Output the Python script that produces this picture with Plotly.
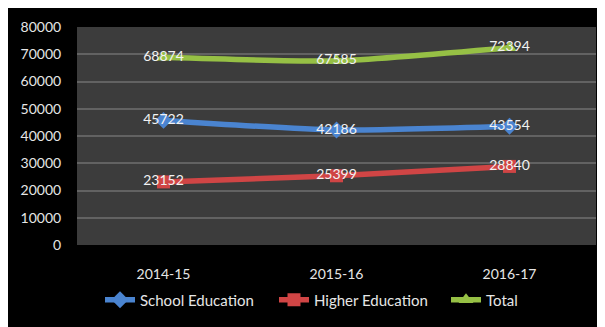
import plotly.graph_objects as go

years = ["2014-15", "2015-16", "2016-17"]
school = [45722, 42186, 43554]
higher = [23152, 25399, 28840]
total = [68874, 67585, 72394]
series_names = ["School Education", "Higher Education", "Total"]
colors = ["#4a84d0", "#d04545", "#96c045"]
symbols = ["diamond", "square", "triangle-up"]
y_ticks = [0, 10000, 20000, 30000, 40000, 50000, 60000, 70000, 80000]

legend_ids = ["legend", "legend2", "legend3"]

fig = go.Figure()
for name, vals, col, sym, lg in zip(series_names, [school, higher, total], colors, symbols, legend_ids):
    fig.add_trace(go.Scatter(
        x=years, y=vals, name=name, mode="lines+markers+text",
        line=dict(color=col, width=5.5, shape="spline", smoothing=0.6),
        marker=dict(symbol=sym, size=13, color=col),
        text=[str(v) for v in vals], textposition="middle center",
        textfont=dict(color="#f2f2f2", size=14, family="Lato"),
        cliponaxis=False, legend=lg,
    ))

# page has 8px body margin -> figure origin at (8, 8)
W, H = 597, 319
L, T = 69, 19
R = W - 588
B = H - 237
pw = W - L - R
ph = H - T - B

legend_left = [92, 266, 438]
legends = {}
for lg, xl in zip(legend_ids, legend_left):
    legends[lg] = dict(orientation="h", x=(xl - L) / pw, xanchor="left",
                       y=(237 - 292) / ph, yanchor="middle",
                       font=dict(size=15, color="#e6e6e6", family="Lato"),
                       bgcolor="rgba(0,0,0,0)", itemwidth=30)

fig.update_layout(
    width=W, height=H,
    margin=dict(l=L, r=R, t=T, b=B),
    paper_bgcolor="black",
    plot_bgcolor="#3c3c3c",
    font=dict(family="Lato", size=14, color="#e0e0e0"),
    showlegend=True,
    xaxis=dict(showgrid=False, zeroline=False, ticks="outside", ticklen=16,
               tickcolor="black", tickfont=dict(size=14, color="#e6e6e6"),
               range=[-0.5, 2.5]),
    yaxis=dict(range=[0, 80000], tickvals=y_ticks,
               ticktext=[str(v) for v in y_ticks], showgrid=True,
               gridcolor="#626262", gridwidth=1.5, zeroline=False,
               ticks="outside", ticklen=12, tickcolor="black",
               tickfont=dict(size=14, color="#e6e6e6")),
    **legends,
)

fig.write_html(
    "out.html",
    post_script="document.documentElement.style.overflow='hidden';"
                "document.body.style.overflow='hidden';",
)
